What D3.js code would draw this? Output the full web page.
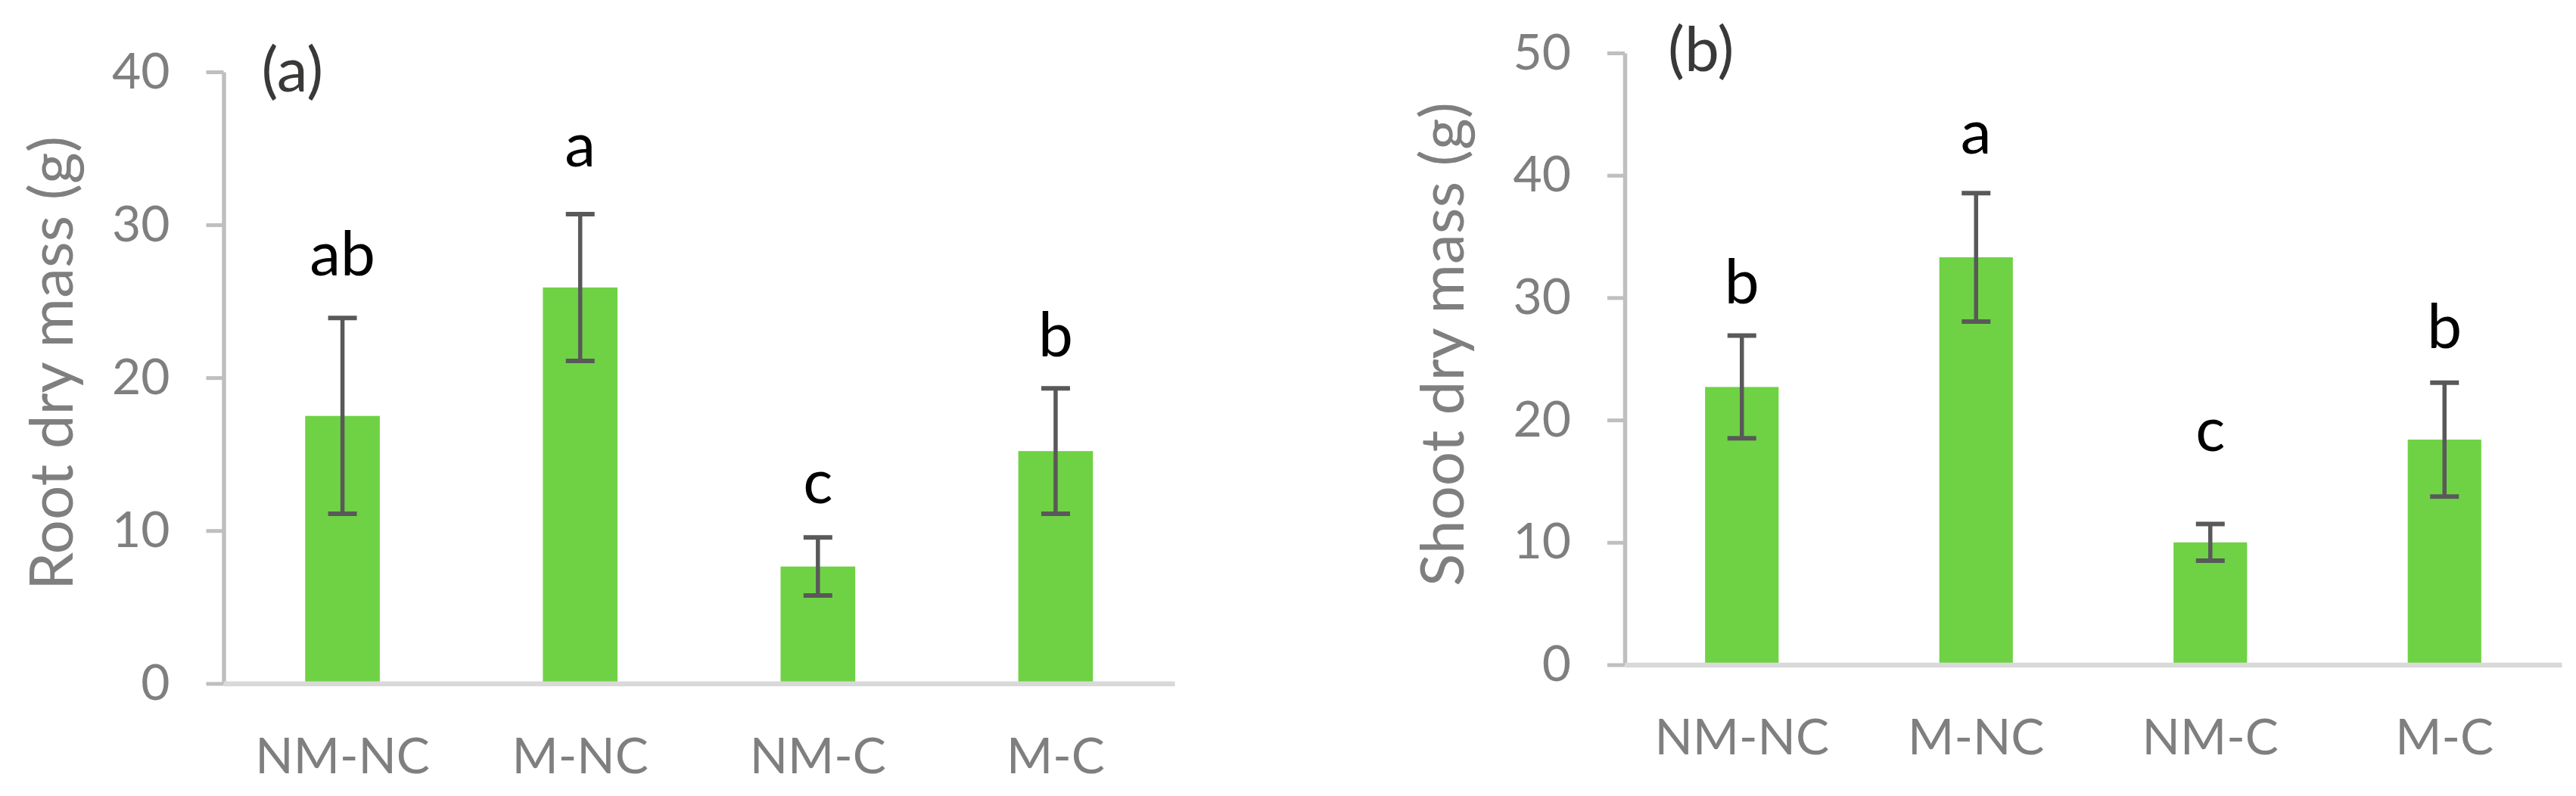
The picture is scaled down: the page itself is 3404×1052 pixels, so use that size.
<!DOCTYPE html>
<html>
<head>
<meta charset="utf-8">
<script src="https://cdn.jsdelivr.net/npm/d3@7"></script>
<style>
  body { margin: 0; background: #fff; }
  svg text { font-family: Lato, 'Open Sans', sans-serif; }
</style>
</head>
<body>
<div id="chart"></div>
<script>
const categories = ['NM-NC', 'M-NC', 'NM-C', 'M-C'];

// (a) root
const rootMeans = [17.5, 25.9, 7.65, 15.2];
const rootErrors = [6.4, 4.8, 1.9, 4.1];
const rootLetters = ['ab', 'a', 'c', 'b'];
const rootLetterLevels = [26.7, 33.8, 11.8, 21.4];
const rootTicks = [0, 10, 20, 30, 40];

// (b) shoot
const shootMeans = [22.7, 33.3, 10.0, 18.4];
const shootErrors = [4.2, 5.25, 1.5, 4.65];
const shootLetters = ['b', 'a', 'c', 'b'];
const shootLetterLevels = [29.5, 41.8, 17.5, 25.9];
const shootTicks = [0, 10, 20, 30, 40, 50];

const width = 3404;
const height = 1052;

const svg = d3.select('#chart')
              .append('svg')
              .attr('width', width)
              .attr('height', height);

const drawPanel = p => {
    const x = d3.scaleBand()
                .domain(categories)
                .range([p.left, p.right])
                .paddingInner(0.686)
                .paddingOuter(0.343);
    const y = d3.scaleLinear()
                .domain([0, d3.max(p.ticks)])
                .range([p.bottom, p.top]);

    const rows = categories.map((c, i) => ({
        cat: c, mean: p.means[i], err: p.errors[i], letter: p.letters[i], level: p.levels[i]
    }));
    const cx = d => x(d.cat) + x.bandwidth() / 2;

    const g = svg.append('g');

    // bars
    g.append('g').selectAll('rect')
        .data(rows)
        .enter()
        .append('rect')
        .attr('x', d => x(d.cat))
        .attr('y', d => y(d.mean))
        .attr('width', x.bandwidth())
        .attr('height', d => y(0) - y(d.mean))
        .attr('fill', '#6fd244');

    // error bars
    const eb = g.append('g').attr('stroke', '#595959').selectAll('g')
        .data(rows)
        .enter()
        .append('g');
    eb.append('line')
        .attr('x1', cx).attr('x2', cx)
        .attr('y1', d => y(d.mean + d.err))
        .attr('y2', d => y(d.mean - d.err))
        .attr('stroke-width', 5.5);
    eb.selectAll('line.cap')
        .data(d => [d.mean + d.err, d.mean - d.err].map(v => ({d, v})))
        .enter()
        .append('line')
        .attr('class', 'cap')
        .attr('x1', e => cx(e.d) - 19).attr('x2', e => cx(e.d) + 19)
        .attr('y1', e => y(e.v)).attr('y2', e => y(e.v))
        .attr('stroke-width', 6);

    // y axis
    const yAxis = g.append('g')
        .attr('transform', `translate(${p.left},0)`)
        .call(d3.axisLeft(y).tickValues(p.ticks).tickSize(23).tickSizeOuter(0).tickPadding(48));
    yAxis.select('.domain').attr('stroke', '#bfbfbf').attr('stroke-width', 5.5);
    yAxis.selectAll('.tick line').attr('stroke', '#bfbfbf').attr('stroke-width', 5);
    yAxis.selectAll('.tick text').attr('fill', '#7f7f7f').style('font-size', '66px');

    // x axis
    const xAxis = g.append('g')
        .attr('transform', `translate(0,${p.bottom})`)
        .call(d3.axisBottom(x).tickSize(0).tickSizeOuter(0).tickPadding(72));
    xAxis.select('.domain').attr('stroke', '#d9d9d9').attr('stroke-width', 6.5);
    xAxis.selectAll('.tick text').attr('fill', '#7f7f7f').style('font-size', '66px');

    // significance letters
    g.append('g').selectAll('text')
        .data(rows)
        .enter()
        .append('text')
        .attr('x', cx)
        .attr('y', d => y(d.level))
        .attr('text-anchor', 'middle')
        .attr('fill', '#000')
        .style('font-size', '82px')
        .text(d => d.letter);

    // y title
    g.append('text')
        .attr('transform', `translate(${p.titleX},${p.titleY}) rotate(-90)`)
        .attr('text-anchor', 'middle')
        .attr('fill', '#7f7f7f')
        .style('font-size', '80px')
        .text(p.title);

    // panel label
    g.append('text')
        .attr('x', p.left + p.tagDx)
        .attr('y', p.tagY)
        .attr('fill', '#3b3838')
        .style('font-size', '82px')
        .text(p.tag);
};

drawPanel({
    left: 295.5, right: 1552, top: 95, bottom: 903.3,
    means: rootMeans, errors: rootErrors, letters: rootLetters, levels: rootLetterLevels,
    ticks: rootTicks, title: 'Root dry mass (g)', titleX: 96, titleY: 480,
    tag: '(a)', tagDx: 50, tagY: 121
});

drawPanel({
    left: 2147, right: 3385, top: 70, bottom: 878.5,
    means: shootMeans, errors: shootErrors, letters: shootLetters, levels: shootLetterLevels,
    ticks: shootTicks, title: 'Shoot dry mass (g)', titleX: 1934, titleY: 455,
    tag: '(b)', tagDx: 57, tagY: 94
});
</script>
</body>
</html>
